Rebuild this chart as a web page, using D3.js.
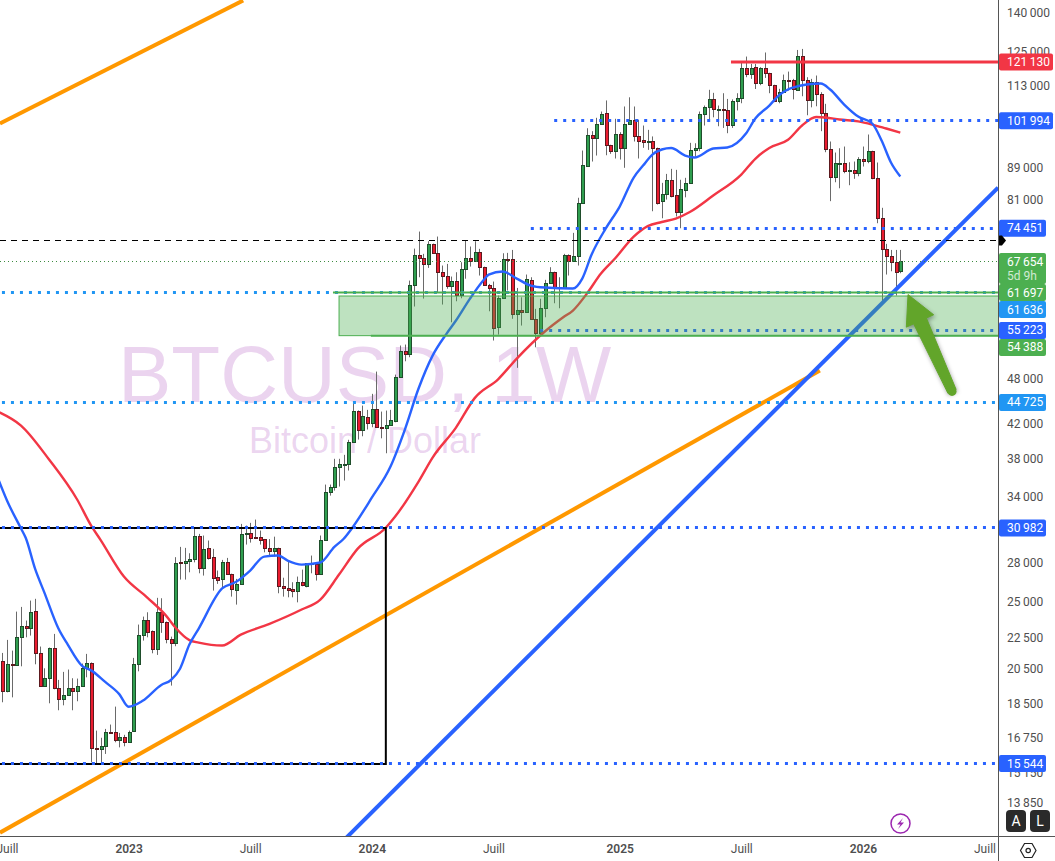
<!DOCTYPE html>
<html lang="fr">
<head>
    <meta charset="UTF-8">
    <title>BTCUSD, 1W</title>
    <script type="text/javascript" src="https://d3js.org/d3.v7.min.js"></script>
    <style>
        html, body { margin: 0; padding: 0; background: #ffffff; overflow: hidden; }
        text { font-family: Roboto, sans-serif; }
        .watermark { font-family: "Liberation Sans", Arial, sans-serif; fill: #9c27b0; fill-opacity: 0.2; }
        .axis text { fill: #4f4f4f; font-size: 12px; }
        .axis line, .axis path { display: none; }
    </style>
</head>
<body>
    <script>
        //Weekly candles, oldest first
        var opens = [
            20995,19205,20830,20751,22521,23260,23094,24303,21490,19490,
            19960,21806,19400,18760,18985,19400,19205,19490,20545,20875,
            16280,16210,16355,17060,17055,16680,16810,16545,17105,20790,
            22630,23670,22920,21720,24232,23530,22390,22105,28050,27930,
            28100,28275,30270,27530,29225,28490,26870,26660,28050,27080,
            25865,26270,30410,30535,30170,30200,29990,29225,28935,29225,
            26150,26020,25920,25740,26460,26120,27960,27885,27050,29920,
            34385,34900,37000,37350,37330,39860,43640,41240,42880,42085,
            43900,41640,41470,41840,42460,48150,52030,51510,63100,68900,
            68310,67030,71150,69300,65550,64800,62860,63850,61290,66120,
            68310,67630,69510,66520,63100,62560,55750,60760,68130,68100,
            57900,58660,58240,64040,57130,54770,58930,63420,65550,62690,
            62560,68960,67760,68620,80130,89480,97900,96920,100980,104400,
            95070,93310,98190,94130,101100,102320,97620,96470,96170,96200,
            94270,80620,82280,85830,82130,78050,83440,84960,93590,94130,
            103980,106100,108740,105600,105660,105300,100680,108040,108970,119100,
            116900,119470,113870,119100,117370,113330,108040,110900,115000,115000,
            111700,123360,115000,108350,114330,110370,104400,93990,86470,90150,
            90200,88000,88360,87490,91270,90630,93420,86320,76790,70130,
            68700,67500,65670];
        var highs = [
            21490,22324,21637,24253,24588,23624,25047,25177,21894,20544,
            21830,22720,19860,20330,20470,19955,19935,20830,21430,20900,
            17120,16765,17205,17425,18365,17005,16910,17120,21180,23350,
            23900,24205,22950,25250,25220,23560,22540,28440,29310,29225,
            28770,30900,30445,30300,29860,29140,27350,28215,28380,27100,
            26690,31350,31195,31445,31750,30745,30000,29990,30200,29240,
            26780,28080,26430,26870,27425,27960,28575,27940,30300,35175,
            35175,37930,37930,38370,40100,44760,43700,44320,43770,45870,
            48960,43550,43680,43770,48530,52840,52990,63900,70170,73760,
            69100,71700,71200,72690,66780,67100,64660,65480,67430,71840,
            70600,71700,70120,66560,63280,63720,61160,69220,69300,69900,
            62540,60850,65040,64530,58830,60590,64040,66450,65600,64530,
            69100,69000,73480,81430,93500,99800,98950,102900,104800,108260,
            95100,102600,98650,106360,109260,106360,102320,100600,99330,97440,
            94300,85060,87320,88620,88360,85830,86320,95630,95510,104800,
            106660,111680,110700,106660,110570,108740,108600,110570,121080,123100,
            120490,120490,119320,124570,117400,113350,112000,116780,117800,115320,
            125500,125880,115880,115320,116450,110900,107190,96000,92950,94130,
            94600,90350,90540,91700,94600,97990,93450,90280,79070,71150,
            69900,69900,69900];
        var lows = [
            18600,19150,18870,20700,20665,22495,22609,20787,19450,19450,
            18545,19320,18170,18435,18950,18170,18655,19450,20010,15600,
            15530,15530,15990,17000,16545,16300,16350,16520,17080,20365,
            22280,22495,21467,21365,22790,22105,19530,21915,26635,26635,
            27210,28015,27130,26950,28250,25790,26300,25920,27020,25340,
            24755,26240,29510,29680,29990,29510,28850,28490,28490,25590,
            25340,25290,25290,24920,26120,26040,27130,26560,27020,29900,
            34055,34560,34970,35590,36650,39830,40130,40515,41325,41600,
            41525,40275,38550,41810,42210,48100,50460,51060,59230,64530,
            60620,66320,69100,61750,59570,62390,56560,60150,60680,64250,
            66580,67600,64850,62990,58410,53620,54560,60700,62070,57140,
            49500,56020,58200,57020,52570,54740,57400,63400,59800,58930,
            62540,64850,67700,66780,80100,89220,90540,92140,100950,92220,
            92600,91340,91070,88890,101050,96000,91340,94240,93680,78280,
            79830,76690,81000,81530,77090,74480,81530,84930,91880,93310,
            100600,101870,103050,100390,99900,98360,99900,105140,107380,115880,
            115320,111950,113200,115640,110580,107730,107380,110870,111450,108600,
            111680,109600,103670,106100,106430,98950,93040,80620,85210,83720,
            87490,84470,86070,86720,89220,90090,85970,75580,60000,65040,
            65670,61160,65290];
        var closes = [
            19205,20812,20790,22521,23260,23094,24232,21467,19490,19974,
            21806,19380,18760,19005,19400,19205,19515,20570,20875,16255,
            16240,16370,17055,17030,16680,16810,16545,17055,20812,22655,
            23670,22830,21720,24232,23505,22365,22105,27970,27990,28130,
            28300,30270,27565,29140,28350,26820,26660,28050,27050,25890,
            26325,30445,30535,30050,30130,29960,29190,28935,29225,26120,
            25965,25890,25740,26460,26195,27940,27910,27050,29920,34430,
            34935,37045,37370,37390,39860,43640,41240,43010,42085,43900,
            41600,41580,41890,42510,48250,52030,51510,63100,68900,68220,
            67030,71150,69220,65470,64800,62860,63850,61290,66120,68310,
            67630,69510,66440,63030,62480,55590,60760,68100,68080,57900,
            58660,58240,64220,57060,54770,59000,63480,65550,62560,62620,
            68960,67760,68700,80230,89660,97900,96920,101100,104100,94960,
            93310,98190,94130,101100,102320,97500,96070,95800,96220,94130,
            80370,82360,85830,81960,78050,83580,85060,93700,94270,104100,
            106260,108740,105500,105660,105560,100680,108150,109080,119100,116900,
            119100,113870,119100,117250,113200,108040,111030,115000,114940,111950,
            123360,115000,108350,114330,110250,104290,93860,86470,90200,90230,
            88000,88360,87490,91270,90630,93420,86220,76690,70040,68620,
            67430,65470,67654];

        //Moving averages (candle number, price)
        var fastIdx = [-1,1,4,5,7,9,12,14,17,19,22,25,27,30,34,36,38,40,42,47,50,53,56,59,61,64,68,71,73,75,79,83,86,89,92,95,97,100,103,104,107,110,113,116,122,124,126,129,132,135,137,139,141,143,146,148,152,155,159,161,164,166,169,175,177,180,183,186,188,190,192];
        var fastVal = [35900,33570,30930,30100,27500,25640,23080,22020,20710,20420,19740,19050,18360,18680,19570,19840,20520,22020,23080,25950,26460,27350,28490,28575,28160,27830,28000,29310,30020,31100,33850,37080,41200,46590,51300,54720,56850,60620,64090,65040,65610,64280,62980,62610,62430,64280,68960,74400,79360,86390,89470,92400,93780,94200,92140,91600,94040,94320,98270,102680,106660,109820,112430,113760,111800,106980,103280,101190,96260,90270,86650];
        var slowIdx = [-1,4,10,16,19,21,26,31,35,37,40,42,47,51,57,64,68,72,76,82,84,89,92,97,101,106,110,116,120,122,125,128,131,135,138,141,144,147,152,158,161,164,168,171,174,176,179,183,186,189,192];
        var slowVal = [43560,41800,37850,33670,31190,29920,26870,25270,23970,23150,22310,22150,21960,22670,23380,24400,25120,27030,29160,31000,32030,35490,38070,41560,45300,47870,50860,55050,57430,58540,61520,65230,68160,72690,74950,75850,76620,78100,81960,87150,91270,94200,96500,100600,103120,103000,102380,101840,100890,99720,98530];

        //Axis ticks
        var priceTicks = [140000,125000,113000,89000,81000,48000,42000,38000,34000,28000,25000,22500,20500,18500,16750,15150,13850];
        var timeTickIdx = [1,27,53,79,105,132,158,184,210];
        var timeTickLabels = ["Juill","2023","Juill","2024","Juill","2025","Juill","2026","Juill"];

        //Drawn levels: price and candle number where they start
        var levelPrices = [101994,74451,61636,55223,44725,30982,15544];
        var levelStart = [118,113,-2,115,-2,-2,-2];
        var levelLightBlue = [false,false,true,false,true,false,false];

        var resistance = 121130, resistanceStart = 155.8;
        var dashedPrice = 71840, lastPrice = 67654;
        var zoneTop = 61697, zoneBottom = 54388, zoneBoxTop = 61080;
        var zoneTopStart = 70.7, zoneBottomStart = 78.8, zoneBoxStart = 72;
        var boxRight = 82;

        //Trend lines: [candle number, price] at each end
        var upperOrange = [[-0.5,101188],[51.5,145070]];
        var lowerOrange = [[-0.5,12700],[174.8,49100]];
        var blueTrend = [[73.2,12450],[212.9,83900]];
        var arrowTip = [193.65,61340], arrowTail = [203.06,46200];

        var w = 1055, h = 861;
        var plotW = 998, plotH = 836;

        var svg = d3.select("body").append("svg")
            .attr("width", w)
            .attr("height", h)
            .style("display", "block");

        var x = d3.scaleLinear().domain([0, 192]).range([2.3, 900.3]);
        var y = d3.scaleLog().domain([15544, 140000]).range([763.6, 12.6]);

        //Horizontal lines sit on whole pixels
        function snap(price) { return Math.round(y(price) - 0.5) + 0.5; }

        svg.append("clipPath").attr("id", "plot")
            .append("rect").attr("width", plotW).attr("height", plotH);

        var chart = svg.append("g").attr("clip-path", "url(#plot)");

        //Watermark
        chart.append("text").attr("class", "watermark")
            .attr("x", 118).attr("y", 402).style("font-size", "80px")
            .text("BTCUSD, 1W");
        chart.append("text").attr("class", "watermark")
            .attr("x", 249).attr("y", 453).style("font-size", "36px")
            .text("Bitcoin / Dollar");

        //Candles
        var candleData = d3.range(opens.length);
        function cx(i) { return Math.round(x(i)); }

        chart.append("g").selectAll("line")
            .data(candleData)
            .enter()
            .append("line")
            .attr("x1", function(i) { return cx(i) + 0.5; })
            .attr("x2", function(i) { return cx(i) + 0.5; })
            .attr("y1", function(i) { return y(highs[i]); })
            .attr("y2", function(i) { return y(lows[i]); })
            .attr("stroke", "#6a6a6a")
            .attr("stroke-width", 1);

        chart.append("g").selectAll("rect")
            .data(candleData)
            .enter()
            .append("rect")
            .attr("x", function(i) { return cx(i) - 1; })
            .attr("width", 3)
            .attr("y", function(i) { return Math.round(y(Math.max(opens[i], closes[i]))) + 0.5; })
            .attr("height", function(i) { return Math.max(1, Math.round(Math.abs(y(opens[i]) - y(closes[i])))); })
            .attr("fill", function(i) { return closes[i] >= opens[i] ? "#2f9e4f" : "#ea1c2f"; })
            .attr("stroke", function(i) { return closes[i] >= opens[i] ? "#1f4d2b" : "#5c1a1f"; })
            .attr("stroke-width", 1)
            .attr("shape-rendering", "crispEdges");

        //Moving averages
        var maLine = d3.line().curve(d3.curveMonotoneX)
            .x(function(d) { return x(d[0]); })
            .y(function(d) { return y(d[1]); });

        chart.append("path")
            .attr("d", maLine(d3.zip(slowIdx, slowVal)))
            .attr("fill", "none").attr("stroke", "#f23645").attr("stroke-width", 2.4);
        chart.append("path")
            .attr("d", maLine(d3.zip(fastIdx, fastVal)))
            .attr("fill", "none").attr("stroke", "#2962ff").attr("stroke-width", 2.4);

        //Trend lines
        function trend(pts, color, width) {
            chart.append("line")
                .attr("x1", x(pts[0][0])).attr("y1", y(pts[0][1]))
                .attr("x2", x(pts[1][0])).attr("y2", y(pts[1][1]))
                .attr("stroke", color).attr("stroke-width", width);
        }
        trend(upperOrange, "#ff9800", 4);
        trend(lowerOrange, "#ff9800", 4);
        trend(blueTrend, "#2962ff", 4);

        //Black box on the 2022-2023 range
        chart.append("rect")
            .attr("x", x(-3)).attr("width", x(boxRight) - x(-3))
            .attr("y", Math.round(y(levelPrices[5]))).attr("height", Math.round(y(levelPrices[6])) - Math.round(y(levelPrices[5])))
            .attr("fill", "none").attr("stroke", "#000000").attr("stroke-width", 2);

        //Horizontal levels
        chart.append("line")
            .attr("x1", 0).attr("x2", plotW)
            .attr("y1", snap(dashedPrice)).attr("y2", snap(dashedPrice))
            .attr("stroke", "#000000").attr("stroke-width", 1).attr("stroke-dasharray", "6 5");
        chart.append("line")
            .attr("x1", 0).attr("x2", plotW)
            .attr("y1", snap(lastPrice)).attr("y2", snap(lastPrice))
            .attr("stroke", "#3d8b40").attr("stroke-width", 1).attr("stroke-dasharray", "1 3");

        chart.append("g").selectAll("line")
            .data(levelPrices)
            .enter()
            .append("line")
            .attr("x1", function(d, i) { return x(levelStart[i]); })
            .attr("x2", plotW)
            .attr("y1", function(d) { return snap(d); })
            .attr("y2", function(d) { return snap(d); })
            .attr("stroke", function(d, i) { return levelLightBlue[i] ? "#2196f3" : "#2962ff"; })
            .attr("stroke-width", 3)
            .attr("stroke-dasharray", "3 6");

        chart.append("line")
            .attr("x1", x(resistanceStart)).attr("x2", plotW)
            .attr("y1", y(resistance)).attr("y2", y(resistance))
            .attr("stroke", "#f23645").attr("stroke-width", 3);

        //Green zone goes over everything drawn so far
        chart.append("rect")
            .attr("x", x(zoneBoxStart)).attr("width", plotW - x(zoneBoxStart) + 2)
            .attr("y", y(zoneBoxTop)).attr("height", y(zoneBottom) - y(zoneBoxTop))
            .attr("fill", "#4caf50").attr("fill-opacity", 0.36)
            .attr("stroke", "#4caf50").attr("stroke-width", 1);
        chart.append("line")
            .attr("x1", x(zoneTopStart)).attr("x2", plotW)
            .attr("y1", y(zoneTop)).attr("y2", y(zoneTop))
            .attr("stroke", "#4caf50").attr("stroke-width", 2);
        chart.append("line")
            .attr("x1", x(zoneBottomStart)).attr("x2", plotW)
            .attr("y1", y(zoneBottom)).attr("y2", y(zoneBottom))
            .attr("stroke", "#4caf50").attr("stroke-width", 2);

        //Green arrow
        var tipX = x(arrowTip[0]), tipY = y(arrowTip[1]);
        var tailX = x(arrowTail[0]), tailY = y(arrowTail[1]);
        var len = Math.hypot(tailX - tipX, tailY - tipY);
        var ux = (tailX - tipX) / len, uy = (tailY - tipY) / len;
        function along(a, b) { return [tipX + ux * a - uy * b, tipY + uy * a + ux * b]; }
        var arrowPts = [along(0, 0), along(29, -15), along(29, -7), along(len, -4.5),
            along(len, 4.5), along(29, 7), along(29, 15)];
        chart.append("path")
            .attr("d", d3.line()(arrowPts) + "Z")
            .attr("fill", "#62a52a")
            .attr("stroke", "#62a52a")
            .attr("stroke-width", 1)
            .style("filter", "drop-shadow(1px 2px 2px rgba(0,0,0,0.35))");
        chart.append("circle")
            .attr("cx", tailX).attr("cy", tailY).attr("r", 4.5)
            .attr("fill", "#62a52a");

        //Frame
        svg.append("line").attr("x1", plotW + 0.5).attr("x2", plotW + 0.5).attr("y1", 0).attr("y2", h)
            .attr("stroke", "#555555");
        svg.append("line").attr("x1", 0).attr("x2", w).attr("y1", plotH + 0.5).attr("y2", plotH + 0.5)
            .attr("stroke", "#555555");

        //Axes
        var fr = d3.formatLocale({ decimal: ",", thousands: "\u2009", grouping: [3], currency: ["", ""] });
        var priceFormat = fr.format(",d");

        svg.append("g").attr("class", "axis")
            .attr("transform", "translate(" + (plotW + 1) + ",0)")
            .call(d3.axisRight(y).tickValues(priceTicks).tickFormat(priceFormat).tickSize(0).tickPadding(8));

        svg.append("g").attr("class", "axis")
            .attr("transform", "translate(0," + (plotH + 1) + ")")
            .call(d3.axisBottom(x).tickValues(timeTickIdx)
                .tickFormat(function(d, i) { return timeTickLabels[i]; }).tickSize(0).tickPadding(7))
            .selectAll("text")
            .style("font-weight", function(d, i) { return timeTickLabels[i] === "Juill" ? 400 : 600; });

        //Price labels on the right axis, pushed down when they would overlap
        var blue = "#2962ff", lightBlue = "#2196f3", green = "#4caf50", red = "#f23645";
        var labelValues = [121130,101994,74451,67654,61697,61636,55223,54388,44725,30982,15544];
        var labelColors = [red,blue,blue,green,green,lightBlue,blue,green,lightBlue,blue,blue];
        var labelH = 17;
        var labelBottom = -100;
        labelValues.forEach(function(v, i) {
            var tall = v === lastPrice;
            var top = tall ? y(v) - 8 : Math.max(y(v) - labelH / 2, labelBottom);
            var height = tall ? 31 : labelH;
            labelBottom = top + height;
            var g = svg.append("g");
            g.append("rect")
                .attr("x", plotW + 1).attr("y", top)
                .attr("width", v >= 100000 ? 54 : 47).attr("height", height)
                .attr("rx", 2)
                .attr("fill", labelColors[i]);
            g.append("text")
                .attr("x", plotW + 9).attr("y", top + 12.5)
                .attr("fill", "#ffffff").style("font-size", "12px")
                .text(priceFormat(v));
            if (tall) {
                g.append("text")
                    .attr("x", plotW + 9).attr("y", top + 27)
                    .attr("fill", "#ffffff").attr("fill-opacity", 0.75).style("font-size", "12px")
                    .text("5d 9h");
            }
        });

        //Black marker for the dashed level
        var my = snap(dashedPrice);
        svg.append("path")
            .attr("d", d3.line()([[plotW + 1, my - 5], [plotW + 4, my - 5], [plotW + 8, my], [plotW + 4, my + 5], [plotW + 1, my + 5]]) + "Z")
            .attr("fill", "#000000");

        //Buttons and icons
        ["A", "L"].forEach(function(t, i) {
            svg.append("rect").attr("x", 1006 + i * 24).attr("y", 810)
                .attr("width", 20).attr("height", 22).attr("rx", 4).attr("fill", "#2a2a2a");
            svg.append("text").attr("x", 1016 + i * 24).attr("y", 826)
                .attr("text-anchor", "middle").attr("fill", "#ffffff")
                .style("font-size", "14px").text(t);
        });

        svg.append("circle").attr("cx", 900.5).attr("cy", 823.5).attr("r", 9.5)
            .attr("fill", "#ffffff").attr("stroke", "#9c27b0").attr("stroke-width", 1.5);
        svg.append("path").attr("d", "M903 818L897 824.5H900.5L898 829L904 822.5H900.5Z")
            .attr("fill", "#9c27b0");

        svg.append("path").attr("d", "M1024.5 843.5H1032L1036 850.5L1032 857.5H1024.5L1020.5 850.5Z")
            .attr("fill", "none").attr("stroke", "#222222").attr("stroke-width", 1.2);
        svg.append("circle").attr("cx", 1028.2).attr("cy", 850.5).attr("r", 2.2)
            .attr("fill", "none").attr("stroke", "#222222").attr("stroke-width", 1.2);
    </script>
</body>
</html>
